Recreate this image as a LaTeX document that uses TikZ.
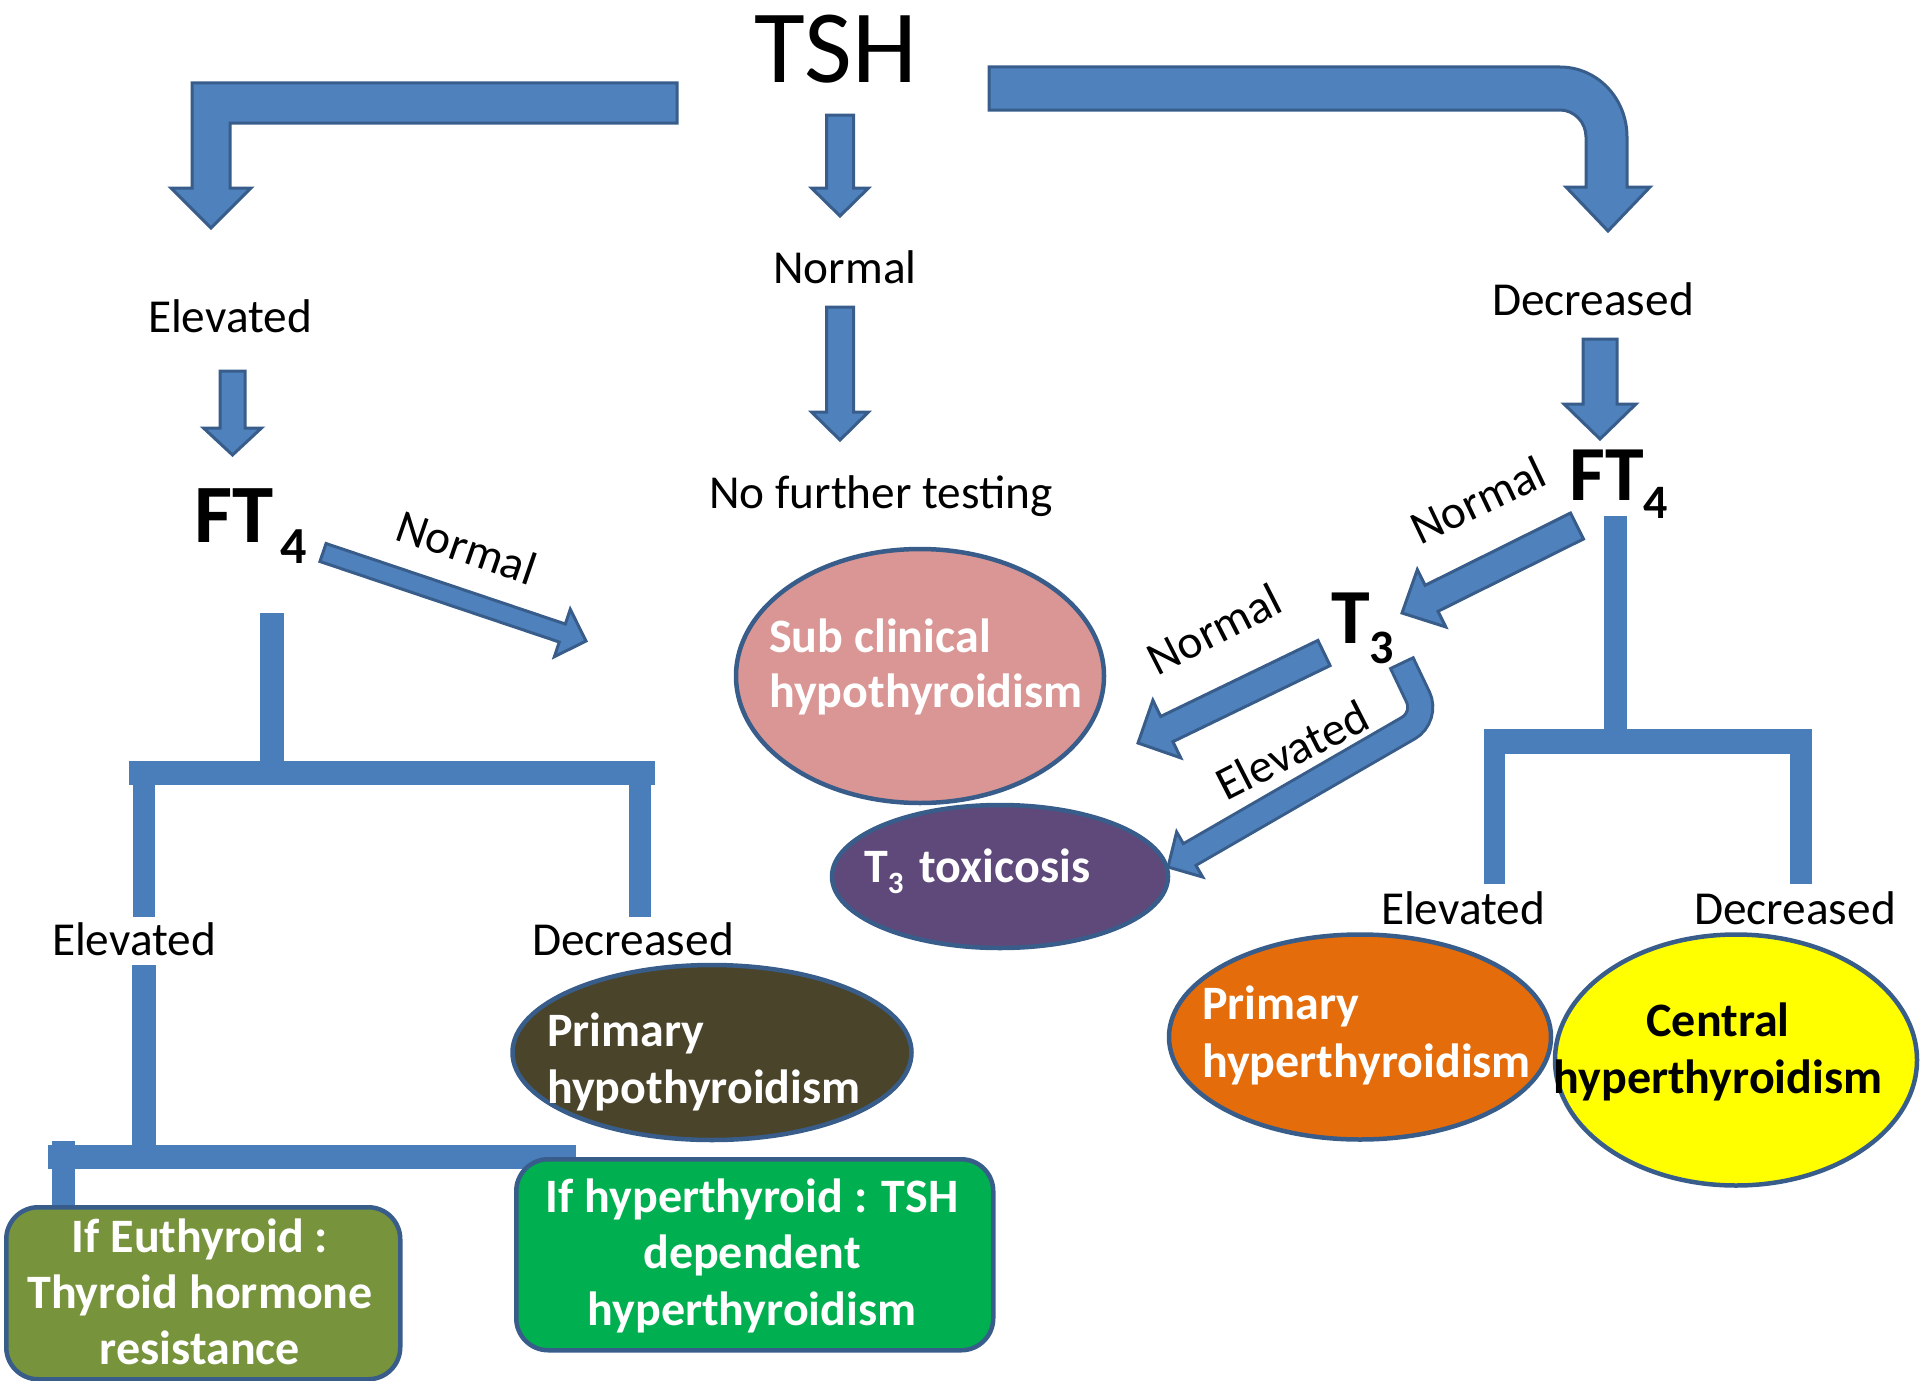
\documentclass[tikz,border=0pt]{standalone}
\usepackage{fontspec}
\setmainfont{Carlito}
\usetikzlibrary{calc,shapes.geometric}
\definecolor{bfill}{HTML}{4F81BD}
\definecolor{bdraw}{HTML}{385D8A}
\definecolor{tline}{HTML}{4A7EBB}
\definecolor{pinkc}{HTML}{D99694}
\definecolor{purplec}{HTML}{5F497A}
\definecolor{brownc}{HTML}{4A442A}
\definecolor{orangec}{HTML}{E46C0A}
\definecolor{yellowc}{HTML}{FFFF00}
\definecolor{olivec}{HTML}{77933C}
\definecolor{greenc}{HTML}{00B050}
\newcommand{\stackc}[2]{\vtop{\baselineskip=#1\relax\halign{\hfil##\hfil\cr#2\crcr}}}
\newcommand{\stackl}[2]{\vtop{\baselineskip=#1\relax\halign{##\hfil\cr#2\crcr}}}
% #1 prefix, #2 tail, #3 tip, #4 half shaft, #5 half head, #6 head length
\newcommand{\blockarr}[6]{%
  \coordinate (#1hb) at ($(#3)!#6!(#2)$);
  \draw[blockarrow] ($(#2)!#4!90:(#3)$) -- ($(#1hb)!#4!90:(#3)$) -- ($(#1hb)!#5!90:(#3)$) -- (#3)
     -- ($(#1hb)!#5!-90:(#3)$) -- ($(#1hb)!#4!-90:(#3)$) -- ($(#2)!#4!-90:(#3)$) -- cycle;}
\begin{document}
\begin{tikzpicture}[x=1pt,y=-1pt,
  lab/.style={font=\fontsize{47.3}{56}\selectfont, inner sep=0pt, anchor=base},
  blockarrow/.style={fill=bfill, draw=bdraw, line width=3pt, line join=miter},
  treel/.style={draw=tline, line width=24pt},
  oval/.style={ellipse, draw=bdraw, line width=4.5pt, inner sep=0pt},
  wtext/.style={font=\bfseries\fontsize{48}{57}\selectfont, text=white, inner sep=0pt},
  rbox/.style={rectangle, rounded corners=32pt, draw=bdraw, line width=4.5pt, inner sep=0pt, anchor=north west},
  big/.style={font=\bfseries\fontsize{78}{80}\selectfont, inner sep=0pt, anchor=base west}]
\useasboundingbox (0,0) rectangle (1920,1381);

% ---- tree lines ----
\draw[treel] (272,613) -- (272,773);
\draw[treel] (129,773) -- (655,773);
\draw[treel, line width=22pt] (144,785) -- (144,917);
\draw[treel, line width=22pt] (640,785) -- (640,917);
\draw[treel] (144,965) -- (144,1146);
\draw[treel] (48,1157) -- (576,1157);
\draw[treel, line width=23pt] (63.5,1141) -- (63.5,1206);
\draw[treel, line width=23pt] (1615.5,516) -- (1615.5,741);
\draw[treel, line width=25pt] (1484,741.5) -- (1812,741.5);
\draw[treel, line width=21pt] (1494.5,741) -- (1494.5,884);
\draw[treel, line width=22pt] (1801,741) -- (1801,884);

% ---- boxes ----
\node[rbox, fill=olivec, minimum width=394pt, minimum height=172pt] (euthy) at (4,1205) {};
\node[rbox, fill=greenc, minimum width=477pt, minimum height=191pt] (hyperdep) at (514,1157) {};

% ---- ellipses ----
\node[oval, fill=pinkc, minimum width=368pt, minimum height=254pt] (subclin) at (920,676) {};
\node[oval, fill=purplec, minimum width=336pt, minimum height=143pt] (t3tox) at (1000,876.5) {};
\node[oval, fill=brownc, minimum width=399pt, minimum height=175pt] (primhypo) at (712,1052.5) {};
\node[oval, fill=orangec, minimum width=382pt, minimum height=205pt] (primhyper) at (1360,1037) {};
\node[oval, fill=yellowc, minimum width=362pt, minimum height=251pt] (central) at (1736,1060) {};

% ---- bent arrows from TSH ----
\draw[blockarrow] (677,83) -- (192,83) -- (192,188) -- (171,188) -- (211,228) -- (251,188)
   -- (230,188) -- (230,123) -- (677,123) -- cycle;
\draw[blockarrow] (989,67) -- (1560,67) .. controls (1597,67) and (1627,98) .. (1627,137)
   -- (1627,187) -- (1650,187) -- (1608,231) -- (1566,187) -- (1586,187) -- (1586,137)
   .. controls (1586,122) and (1574,110) .. (1560,110) -- (989,110) -- cycle;

% ---- straight block arrows ----
\coordinate (a1t) at (840,115); \coordinate (a1h) at (840,216);
\blockarr{a1}{a1t}{a1h}{13.5pt}{28.5pt}{28pt}
\coordinate (a2t) at (840,307); \coordinate (a2h) at (840,440);
\blockarr{a2}{a2t}{a2h}{13.5pt}{28.5pt}{28pt}
\coordinate (a3t) at (232.5,371); \coordinate (a3h) at (232.5,455);
\blockarr{a3}{a3t}{a3h}{12.5pt}{29pt}{27pt}
\coordinate (a4t) at (1600,339); \coordinate (a4h) at (1600,439);
\blockarr{a4}{a4t}{a4h}{17pt}{36pt}{35pt}
\coordinate (a5t) at (323,552.5); \coordinate (a5h) at (586,641);
\blockarr{a5}{a5t}{a5h}{9.5pt}{25pt}{25pt}
\coordinate (a6t) at (1577,526); \coordinate (a6h) at (1402,613);
\blockarr{a6}{a6t}{a6h}{14.5pt}{32pt}{33pt}
\coordinate (a7t) at (1324,653); \coordinate (a7h) at (1138,743);
\blockarr{a7}{a7t}{a7h}{14pt}{32pt}{32pt}

% ---- curved arrow T3 -> T3 toxicosis ----
\coordinate (elA) at (1402.5,664.5);
\coordinate (elB) at (1427.5,717);
\coordinate (elTip) at (1168,867);
\coordinate (elHB) at ($(elTip)!25pt!(elB)$);
\draw[draw=bdraw, line width=28pt, rounded corners=22pt] ($(elA)!-3pt!(elB)$) -- (elB) -- (elHB);
\draw[blockarrow] ($(elHB)!26pt!90:(elTip)$) -- (elTip) -- ($(elHB)!26pt!-90:(elTip)$) -- cycle;
\draw[draw=bfill, line width=22pt, rounded corners=22pt] (elA) -- (elB) -- ($(elHB)!5pt!(elTip)$);

% ---- plain labels ----
\node[lab, font=\fontsize{104}{110}\selectfont] (tsh) at (836,83) {TSH};
\node[lab] (normTop) at (845,283) {Normal};
\node[lab] (elevTop) at (230,332) {Elevated};
\node[lab] (decTop) at (1593,315) {Decreased};
\node[lab] (nofurther) at (881,508) {No further testing};
\node[lab] (elevLL) at (134,955) {Elevated};
\node[lab] (decLL) at (633,955) {Decreased};
\node[lab] (elevR) at (1463,924) {Elevated};
\node[lab] (decR) at (1795,924) {Decreased};

\node[big, font=\bfseries\fontsize{83}{85}\selectfont] (ft4L) at (194,542) {FT\hspace{7pt}\raisebox{-21pt}{\fontsize{52}{52}\selectfont 4}};
\node[big] (ft4R) at (1569,500) {FT\raisebox{-18pt}{\fontsize{48}{48}\selectfont 4}};
\node[big] (t3) at (1331,643) {T\raisebox{-20pt}{\fontsize{48}{48}\selectfont 3}};

% ---- rotated labels ----
\node[lab, anchor=center, rotate=-19] (normL) at (467,547) {Normal};
\node[lab, anchor=center, rotate=25.5] (normR) at (1478,500) {Normal};
\node[lab, anchor=center, rotate=27] (normT3) at (1214,629) {Normal};
\node[lab, anchor=center, rotate=27] (elevT3) at (1292,750) {Elevated};

% ---- texts in shapes ----
\node[wtext, anchor=base west] (subclinT) at (769,652) {\stackl{55pt}{Sub clinical\cr hypothyroidism}};
\node[wtext, anchor=base west] (t3toxT) at (864,882) {T\raisebox{-11pt}{\fontsize{31}{31}\selectfont 3}\hspace{16pt}toxicosis};
\node[wtext, anchor=base west] (primhypoT) at (547,1046) {\stackl{57pt}{Primary\cr hypothyroidism}};
\node[wtext, anchor=base west] (primhyperT) at (1202,1019) {\stackl{58pt}{Primary\cr hyperthyroidism}};
\node[wtext, text=black, anchor=base] (centralT) at (1718,1036) {\stackc{57pt}{Central\cr hyperthyroidism}};
\node[wtext, anchor=base] (euthyT) at (200,1252) {\stackc{56pt}{If Euthyroid :\cr Thyroid hormone\cr resistance}};
\node[wtext, anchor=base] (hyperdepT) at (752,1212) {\stackc{56.5pt}{If hyperthyroid : TSH\cr dependent\cr hyperthyroidism}};
\end{tikzpicture}
\end{document}
